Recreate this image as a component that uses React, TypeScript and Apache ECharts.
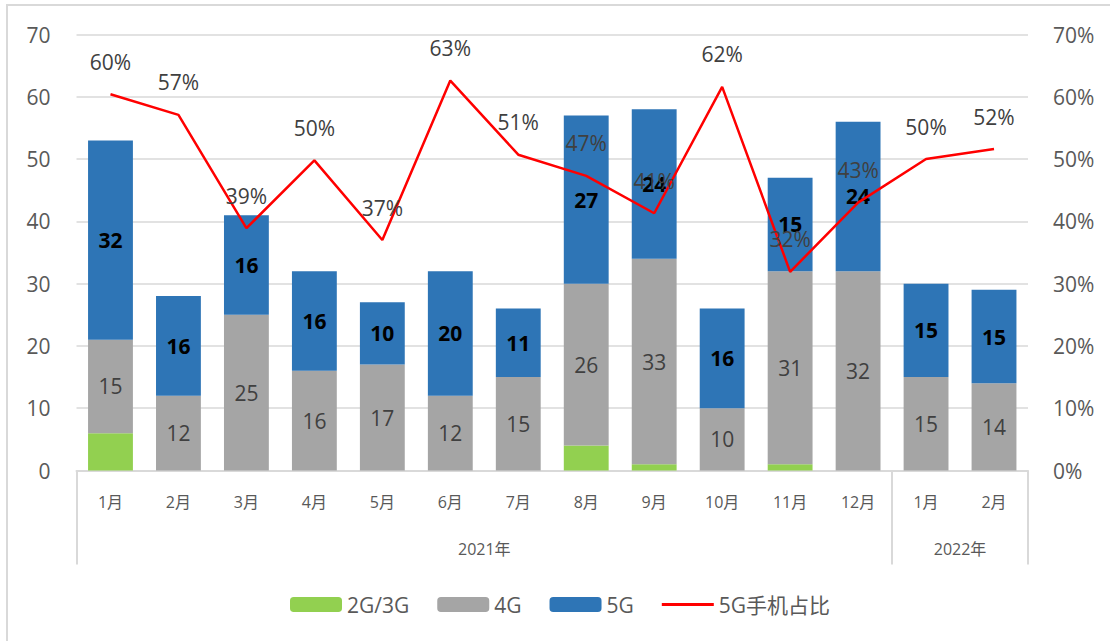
import React, { useEffect, useRef } from "react";
import * as echarts from "echarts";

const months = ["1月", "2月", "3月", "4月", "5月", "6月", "7月", "8月", "9月", "10月", "11月", "12月", "1月", "2月"];
const years = ["2021年", "2022年"];
const g23 = [6, 0, 0, 0, 0, 0, 0, 4, 1, 0, 1, 0, 0, 0];
const g4 = [15, 12, 25, 16, 17, 12, 15, 26, 33, 10, 31, 32, 15, 14];
const g5 = [32, 16, 16, 16, 10, 20, 11, 27, 24, 16, 15, 24, 15, 15];
const share5g = [60.4, 57.1, 38.9, 49.8, 37.0, 62.6, 50.7, 47.3, 41.3, 61.6, 31.9, 43.0, 50.0, 51.6];
const leftTicks = [0, 70, 10];
const rightTicks = [0, 70, 10];

const FONT = "'Open Sans', 'Noto Sans CJK SC', sans-serif";

export default function App() {
  const ref = useRef<HTMLDivElement>(null);
  useEffect(() => {
    document.body.style.margin = "0";
    const chart = echarts.init(ref.current!, null, { renderer: "svg" });
    chart.setOption({
      animation: false,
      backgroundColor: "#ffffff",
      textStyle: { fontFamily: FONT },
      graphic: [
        {
          type: "rect",
          shape: { x: 7, y: 5, width: 1120, height: 660 },
          style: { fill: "none", stroke: "#d9d9d9", lineWidth: 2 },
          silent: true,
        },
      ],
      legend: {
        left: 285,
        top: 589,
        itemWidth: 52,
        itemHeight: 15,
        itemGap: 28,
        textStyle: { fontSize: 21, color: "#595959", fontFamily: FONT },
        data: [
          "2G/3G",
          "4G",
          "5G",
          { name: "5G手机占比", icon: "path://M0,0 L52,0 L52,3 L0,3 Z" },
        ],
      },
      grid: { left: 76.5, right: 82, top: 34.5, bottom: 170.5, containLabel: false, outerBoundsMode: "none" },
      xAxis: [
        {
          type: "category",
          data: months,
          axisLine: { lineStyle: { color: "#d9d9d9", width: 2 } },
          axisTick: {
            show: true,
            length: 94,
            interval: (i: number) => i === 0 || i === 12,
            lineStyle: { color: "#d9d9d9", width: 2 },
          },
          axisLabel: { fontSize: 16, color: "#595959", margin: 23, interval: 0, fontFamily: FONT },
        },
        {
          type: "value",
          position: "bottom",
          offset: 62,
          min: 0,
          max: 14,
          interval: 1,
          axisLine: { show: false },
          axisTick: { show: false },
          splitLine: { show: false },
          axisLabel: {
            fontSize: 16,
            color: "#595959",
            margin: 8,
            showMinLabel: true,
            showMaxLabel: true,
            fontFamily: FONT,
            formatter: (v: number) => (v === 6 ? years[0] : v === 13 ? years[1] : ""),
          },
        },
      ],
      yAxis: [
        {
          type: "value",
          min: leftTicks[0],
          max: leftTicks[1],
          interval: leftTicks[2],
          axisLine: { show: false },
          axisTick: { show: false },
          splitLine: { lineStyle: { color: "#d9d9d9", width: 1.5 } },
          axisLabel: { fontSize: 21, color: "#595959", margin: 26, fontFamily: FONT },
        },
        {
          type: "value",
          min: rightTicks[0],
          max: rightTicks[1],
          interval: rightTicks[2],
          axisLine: { show: false },
          axisTick: { show: false },
          splitLine: { show: false },
          axisLabel: { fontSize: 21, color: "#595959", margin: 25, formatter: "{value}%", fontFamily: FONT },
        },
      ],
      series: [
        {
          name: "2G/3G",
          type: "bar",
          stack: "t",
          barWidth: "66%",
          data: g23,
          itemStyle: { color: "#92d050" },
        },
        {
          name: "4G",
          type: "bar",
          stack: "t",
          barWidth: "66%",
          data: g4,
          itemStyle: { color: "#a5a5a5" },
          label: { show: true, position: "inside", fontSize: 21, color: "#404040", fontFamily: FONT },
        },
        {
          name: "5G",
          type: "bar",
          stack: "t",
          barWidth: "66%",
          data: g5,
          itemStyle: { color: "#2e75b6" },
          label: { show: true, position: "inside", fontSize: 21, fontWeight: "bold", color: "#000000", fontFamily: FONT },
        },
        {
          name: "5G手机占比",
          type: "line",
          yAxisIndex: 1,
          data: share5g,
          symbol: "circle",
          symbolSize: 0.01,
          showSymbol: true,
          z: 5,
          lineStyle: { color: "#ff0000", width: 2.5 },
          itemStyle: { color: "#ff0000" },
          label: {
            show: true,
            position: "top",
            distance: 22,
            fontSize: 21,
            color: "#404040",
            fontFamily: FONT,
            formatter: (p: any) => Math.round(p.value) + "%",
          },
        },
      ],
    });
    return () => chart.dispose();
  }, []);
  return <div ref={ref} style={{ width: 1110, height: 641 }} />;
}
